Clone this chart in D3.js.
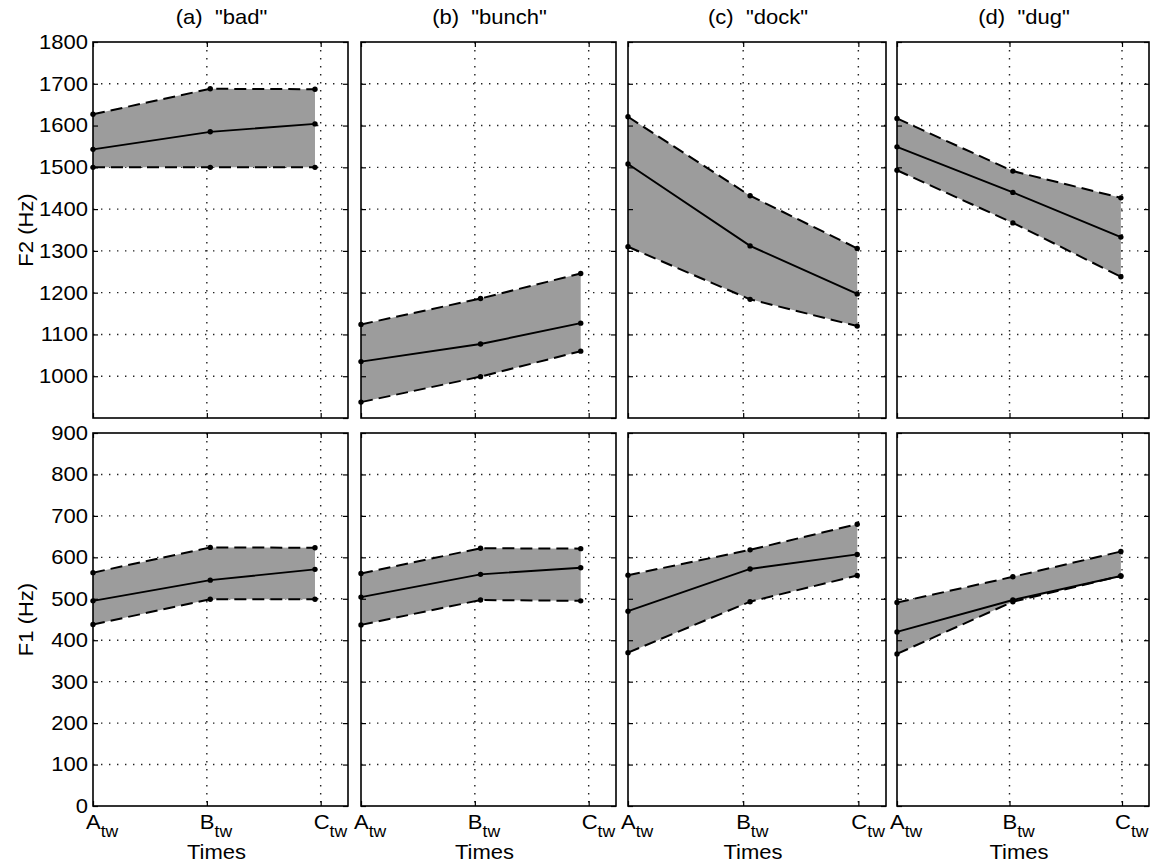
<!DOCTYPE html>
<html>
<head>
<meta charset="utf-8">
<script src="https://cdn.jsdelivr.net/npm/d3@7"></script>
<style>
  body { margin: 0; background: #fff; }
  svg text { font-family: "Liberation Sans", Arial, Helvetica, sans-serif; fill: #000; }
</style>
</head>
<body>
<svg id="chart" width="1156" height="862"></svg>
<script>
// ---------------- data ----------------
const words = ["bad", "bunch", "dock", "dug"];
const panelLetters = ["(a)", "(b)", "(c)", "(d)"];
const timeLabels = ["A", "B", "C"];
const timeSubscript = "tw";
const timeTicks = [0, 1, 2];
const xAxisTitle = "Times";
// measured sample times of A/B/C for each word (tick units)
const sampleTimes = [
  [0, 1.03, 1.95],
  [0, 1.05, 1.93],
  [0, 1.06, 1.99],
  [0, 1.03, 1.99]
];
// F2 (Hz): upper bound, mean, lower bound per word at A, B, C
const f2Upper = [
  [1627, 1688, 1687],
  [1124, 1186, 1246],
  [1621, 1432, 1306],
  [1617, 1491, 1427]
];
const f2Mean = [
  [1543, 1585, 1604],
  [1035, 1077, 1127],
  [1508, 1312, 1197],
  [1549, 1440, 1333]
];
const f2Lower = [
  [1500, 1500, 1500],
  [938, 999, 1060],
  [1310, 1184, 1120],
  [1493, 1367, 1238]
];
// F1 (Hz)
const f1Upper = [
  [563, 624, 623],
  [561, 622, 621],
  [557, 618, 680],
  [491, 553, 614]
];
const f1Mean = [
  [495, 545, 571],
  [504, 559, 575],
  [470, 572, 607],
  [420, 497, 555]
];
const f1Lower = [
  [438, 499, 499],
  [437, 497, 495],
  [370, 493, 556],
  [367, 493, 555]
];
const f2Ticks = [1000, 1100, 1200, 1300, 1400, 1500, 1600, 1700, 1800];
const f2GridTicks = [900, 1000, 1100, 1200, 1300, 1400, 1500, 1600, 1700, 1800];
const f1Ticks = [0, 100, 200, 300, 400, 500, 600, 700, 800, 900];
const f2Domain = [900, 1800];
const f1Domain = [0, 900];
const xDomain = [0, 2.24];

// ---------------- layout ----------------
const colX0 = [93, 361, 628, 897];
const colX1 = [348, 616, 886, 1149];
const rows = [
  { label: "F2 (Hz)", domain: f2Domain, labelTicks: f2Ticks, gridTicks: f2GridTicks,
    upper: f2Upper, mean: f2Mean, lower: f2Lower, y0: 42, y1: 418, bottomLabels: false },
  { label: "F1 (Hz)", domain: f1Domain, labelTicks: f1Ticks, gridTicks: f1Ticks,
    upper: f1Upper, mean: f1Mean, lower: f1Lower, y0: 433, y1: 806, bottomLabels: true }
];
const FS = 20;
const SX = 1.1; // horizontal stretch of the lettering

const svg = d3.select("#chart");
svg.append("rect").attr("width", 1156).attr("height", 862).attr("fill", "#fff");

rows.forEach((row, r) => {
  words.forEach((w, c) => {
    const x = d3.scaleLinear().domain(xDomain).range([colX0[c], colX1[c]]);
    const y = d3.scaleLinear().domain(row.domain).range([row.y1, row.y0]);
    const g = svg.append("g");
    const times = sampleTimes[c];

    // grid lines (dotted)
    const innerY = row.gridTicks.filter(v => v > row.domain[0] && v < row.domain[1]);
    g.selectAll(".hg").data(innerY).join("line")
      .attr("x1", colX0[c]).attr("x2", colX1[c])
      .attr("y1", d => y(d)).attr("y2", d => y(d))
      .attr("stroke", "#222").attr("stroke-width", 1.4)
      .attr("stroke-dasharray", "1.4,6.6");
    g.selectAll(".vg").data(timeTicks.filter(t => t > xDomain[0] && t < xDomain[1])).join("line")
      .attr("x1", d => x(d)).attr("x2", d => x(d))
      .attr("y1", row.y0).attr("y2", row.y1)
      .attr("stroke", "#222").attr("stroke-width", 1.4)
      .attr("stroke-dasharray", "1.4,6.6");

    const pts = times.map((t, i) => ({ t, u: row.upper[c][i], m: row.mean[c][i], l: row.lower[c][i] }));

    // shaded band
    g.append("path").datum(pts)
      .attr("d", d3.area().x(d => x(d.t)).y0(d => y(d.l)).y1(d => y(d.u)))
      .attr("fill", "#9c9c9c");

    // dashed bounds
    ["u", "l"].forEach(k => {
      g.append("path").datum(pts)
        .attr("d", d3.line().x(d => x(d.t)).y(d => y(d[k])))
        .attr("fill", "none").attr("stroke", "#000").attr("stroke-width", 2)
        .attr("stroke-dasharray", "12,6");
    });
    // mean line
    g.append("path").datum(pts)
      .attr("d", d3.line().x(d => x(d.t)).y(d => y(d.m)))
      .attr("fill", "none").attr("stroke", "#000").attr("stroke-width", 1.9);

    // points
    ["u", "m", "l"].forEach(k => {
      g.selectAll(".p" + k).data(pts).join("circle")
        .attr("cx", d => x(d.t)).attr("cy", d => y(d[k])).attr("r", 2.7)
        .attr("fill", "#000");
    });

    // axes with inward ticks
    const left = d3.axisLeft(y).tickValues(row.labelTicks).tickSize(-5).tickPadding(5)
      .tickFormat(c === 0 ? d3.format("d") : () => "");
    const right = d3.axisRight(y).tickValues(row.gridTicks).tickSize(-5).tickFormat(() => "");
    const top = d3.axisTop(x).tickValues(timeTicks).tickSize(-5).tickFormat(() => "");
    const bottom = d3.axisBottom(x).tickValues(timeTicks).tickSize(-5).tickFormat(() => "");

    const styleAxis = sel => {
      sel.select(".domain").remove();
      sel.selectAll(".tick line").attr("stroke", "#000").attr("stroke-width", 1.2);
      sel.attr("font-family", null).attr("font-size", null);
      sel.selectAll("text").each(function () {
        const t = d3.select(this);
        const tx = +t.attr("x") || 0;
        t.attr("x", 0).attr("transform", `translate(${tx},0) scale(${SX},1)`)
          .attr("font-size", FS).attr("fill", "#000");
      });
    };
    g.append("g").attr("transform", `translate(${colX0[c]},0)`).call(left).call(styleAxis);
    g.append("g").attr("transform", `translate(${colX1[c]},0)`).call(right).call(styleAxis);
    g.append("g").attr("transform", `translate(0,${row.y0})`).call(top).call(styleAxis);
    g.append("g").attr("transform", `translate(0,${row.y1})`).call(bottom).call(styleAxis);

    // frame
    g.append("rect").attr("x", colX0[c]).attr("y", row.y0)
      .attr("width", colX1[c] - colX0[c]).attr("height", row.y1 - row.y0)
      .attr("fill", "none").attr("stroke", "#000").attr("stroke-width", 1.6);

    // titles
    if (r === 0) {
      svg.append("text")
        .attr("transform", `translate(${(colX0[c] + colX1[c]) / 2 + 1},24) scale(${SX},1)`)
        .attr("text-anchor", "middle").attr("font-size", FS)
        .style("white-space", "pre")
        .text(`${panelLetters[c]}  "${w}"`);
    }
    // bottom tick labels with subscript
    if (row.bottomLabels) {
      const lab = svg.append("g");
      const tt = lab.selectAll("text").data(timeTicks).join("text")
        .attr("transform", d => `translate(${x(d) - 7},${row.y1 + 23}) scale(${SX},1)`)
        .attr("font-size", FS);
      tt.append("tspan").text((d, i) => timeLabels[i]);
      tt.append("tspan").attr("dy", 8).attr("font-size", 16).text(timeSubscript);
      svg.append("text")
        .attr("transform", `translate(${(colX0[c] + colX1[c]) / 2 - 4},859) scale(${SX},1)`)
        .attr("text-anchor", "middle").attr("font-size", FS)
        .text(xAxisTitle);
    }
  });

  // y-axis label
  svg.append("text")
    .attr("transform", `translate(33,${(row.y0 + row.y1) / 2}) rotate(-90) scale(${SX},1)`)
    .attr("text-anchor", "middle").attr("font-size", FS)
    .text(row.label);
});
</script>
</body>
</html>
